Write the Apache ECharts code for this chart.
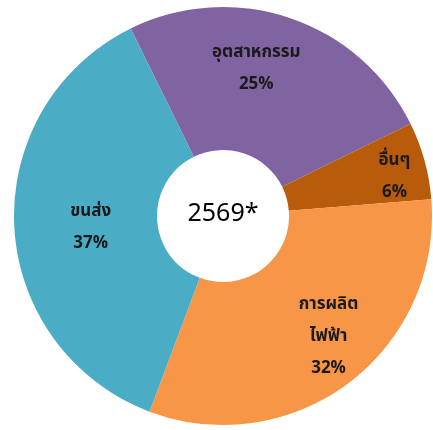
<!DOCTYPE html>
<html>
<head>
<meta charset="utf-8">
<script src="https://cdn.jsdelivr.net/npm/echarts@6/dist/echarts.min.js"></script>
<style>
html,body{margin:0;padding:0;background:#fff;}
#chart{width:433px;height:430px;}
</style>
</head>
<body>
<div id="chart"></div>
<script>
// ข้อมูล
let names=["อุตสาหกรรม","อื่นๆ","การผลิต\nไฟฟ้า","ขนส่ง"]
let values=[25,6,32,37]
let colors=["#8064a2","#b85c0b","#f79646","#4bacc6"]
let centerText="2569*"
// ปรับตำแหน่งป้าย
let labelShift=[[-12,-13],[36,-1],[21,9],[8,6]]

let myChart=echarts.init(document.getElementById("chart"))
let fontFam="Tahoma, 'Noto Sans Thai', 'Noto Sans', 'DejaVu Sans', sans-serif"

myChart.setOption({
  animation:false,
  graphic:[{
    type:"text",
    x:223,
    y:216,
    style:{
      text:centerText,
      fontSize:25,
      fontFamily:fontFam,
      fill:"#000",
      align:"center",
      verticalAlign:"middle"
    }
  }],
  series:[{
    type:"pie",
    center:[223,216],
    radius:[66,209],
    startAngle:116.2,
    clockwise:true,
    avoidLabelOverlap:false,
    label:{
      show:true,
      position:"inside",
      formatter:"{b}\n{c}%",
      fontSize:17,
      lineHeight:32,
      fontWeight:"bold",
      color:"#1a1a1a",
      fontFamily:fontFam
    },
    labelLine:{show:false},
    data:names.map((n,i)=>({
      name:n,
      value:values[i],
      itemStyle:{color:colors[i]},
      label:{offset:labelShift[i]}
    }))
  }]
})
</script>
</body>
</html>
